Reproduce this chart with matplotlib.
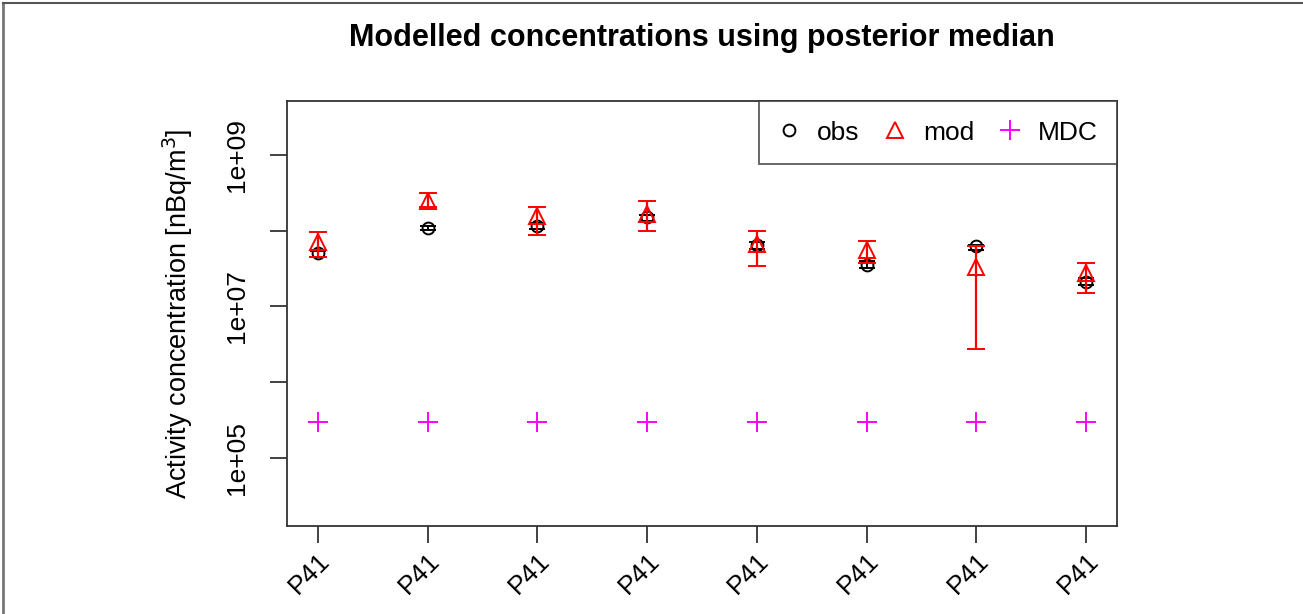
import matplotlib
matplotlib.use("Agg")
import matplotlib.pyplot as plt
from matplotlib.lines import Line2D
import numpy as np

plt.rcParams['font.family'] = ['Liberation Sans', 'DejaVu Sans']

stations = ["P41", "P41", "P41", "P41", "P41", "P41", "P41", "P41"]
obs = [5.08e7, 1.10e8, 1.16e8, 1.50e8, 6.5e7, 3.5e7, 6.2e7, 2.13e7]
obs_lo = [4.47e7, 1.02e8, 1.06e8, 1.36e8, 5.7e7, 3.2e7, 5.6e7, 1.92e7]
obs_hi = [5.46e7, 1.17e8, 1.25e8, 1.61e8, 7.2e7, 4.0e7, 6.5e7, 2.35e7]
mod = [7.1e7, 2.5e8, 1.57e8, 1.65e8, 6.7e7, 5.5e7, 3.36e7, 2.74e7]
mod_lo = [4.5e7, 2.05e8, 8.8e7, 9.9e7, 3.4e7, 3.7e7, 2.7e6, 1.52e7]
mod_hi = [9.5e7, 3.1e8, 2.08e8, 2.5e8, 1.0e8, 7.3e7, 6.3e7, 3.72e7]
mdc = [3e5, 3e5, 3e5, 3e5, 3e5, 3e5, 3e5, 3e5]

x = np.arange(1, len(stations) + 1)
obs = np.array(obs); mod = np.array(mod)

fig = plt.figure(figsize=(13.03, 6.14), dpi=100)
ax = fig.add_axes([287/1303, 88/614, 830/1303, 425/614])

ax.errorbar(x, obs, yerr=[obs - np.array(obs_lo), np.array(obs_hi) - obs],
            fmt='o', mfc='none', mec='black', ecolor='black', ms=8.5, mew=1.4,
            elinewidth=1.4, capsize=5.5, capthick=1.4, zorder=3)
ax.errorbar(x, mod, yerr=[mod - np.array(mod_lo), np.array(mod_hi) - mod],
            fmt='^', mfc='none', mec='red', ecolor='red', ms=11.5, mew=1.4,
            elinewidth=1.6, capsize=6.5, capthick=1.6, zorder=4)
ax.plot(x, mdc, '+', color='#FF00FF', ms=15, mew=1.4, zorder=5)

ax.set_yscale('log')
ax.set_ylim(10**4.10, 10**9.713)
ax.set_xlim(0.72, 8.28)
ax.set_yticks([1e5, 1e6, 1e7, 1e8, 1e9])
ax.set_yticklabels(["1e+05", "", "1e+07", "", "1e+09"], rotation=90, va='center', fontsize=19)
ax.yaxis.set_minor_locator(matplotlib.ticker.NullLocator())
ax.set_xticks(x)
ax.set_xticklabels(stations, rotation=45, ha='right', rotation_mode='anchor', fontsize=19)
ax.tick_params(axis='both', length=12, width=1.3, color='#333333')
ax.tick_params(axis='y', pad=15)
ax.tick_params(axis='x', pad=4)
for s in ax.spines.values():
    s.set_color('#333333')
    s.set_linewidth(1.3)

ax.set_ylabel("Activity concentration [nBq/m$^3$]", fontsize=19.5, labelpad=22)
fig.text(702/1303, 1 - 38/614, "Modelled concentrations using posterior median",
         ha='center', va='center', fontsize=22, fontweight='bold')

handles = [Line2D([], [], ls='none', marker='o', mfc='none', mec='black', ms=8.5, mew=1.4),
           Line2D([], [], ls='none', marker='^', mfc='none', mec='red', ms=11.5, mew=1.4),
           Line2D([], [], ls='none', marker='+', color='#FF00FF', ms=15, mew=1.4)]
leg = ax.legend(handles, ["obs", "mod", "MDC"], loc='upper right', ncol=3, fontsize=19,
                frameon=True, fancybox=False, borderaxespad=0, handletextpad=0.66,
                columnspacing=0.95, borderpad=0.74, handlelength=0.8)
leg.get_frame().set_edgecolor('#333333')
leg.get_frame().set_linewidth(1.3)

fig.add_artist(Line2D([3/1303, 3/1303], [0, 1 - 3/614], color='#777777', lw=2))
fig.add_artist(Line2D([3/1303, 1], [1 - 3/614, 1 - 3/614], color='#555555', lw=1.5))

fig.savefig("out.png", dpi=100)
